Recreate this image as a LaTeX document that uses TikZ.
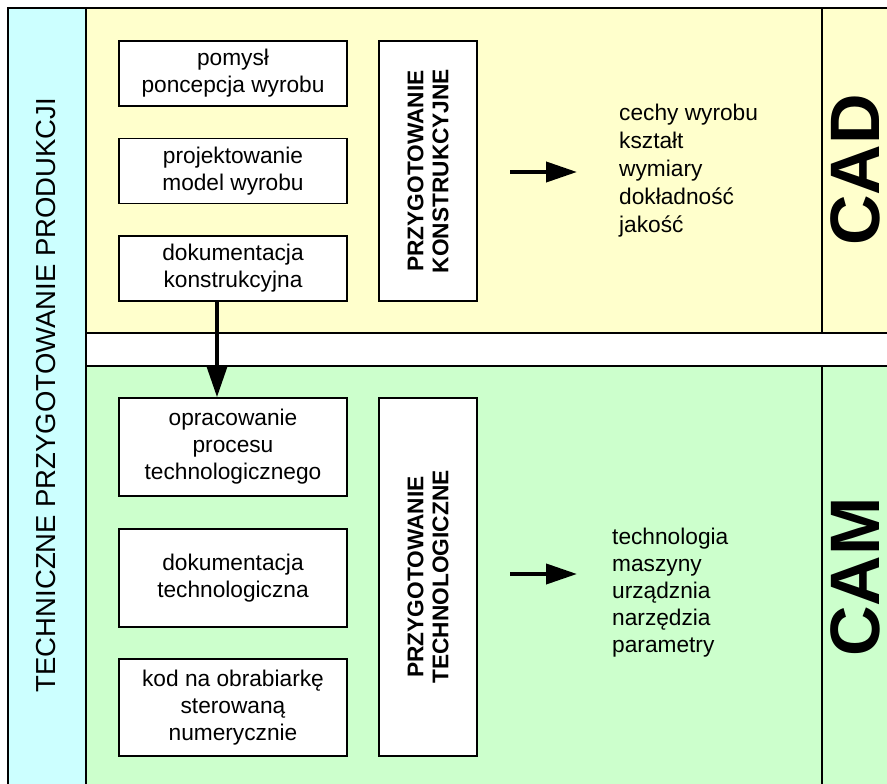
\documentclass[tikz,border=0pt]{standalone}
\usepackage{fontspec}
\setmainfont{Liberation Sans}
\usetikzlibrary{arrows.meta}
\definecolor{cyanbg}{HTML}{CCFFFF}
\definecolor{yellowbg}{HTML}{FFFFCC}
\definecolor{greenbg}{HTML}{CCFFCC}
\tikzset{
  panel/.style={draw=black, line width=1.5pt},
  stepbox/.style={draw=black, fill=white, line width=1.5pt, minimum width=228pt, inner sep=2pt, align=center, font=\fontsize{22.7}{27}\selectfont},
  sidebox/.style={draw=black, fill=white, line width=1.5pt, minimum width=98pt},
  sidelabel/.style={rotate=90, align=center, font=\fontsize{22.7}{25}\selectfont\bfseries},
  listtext/.style={anchor=west, align=left, inner sep=0pt},
  bigarrow/.style={line width=4pt, -{Triangle[length=31pt,width=20pt]}},
  biglabel/.style={rotate=90, inner sep=0pt, font=\fontsize{70}{76}\selectfont\bfseries}
}
\begin{document}
\begin{tikzpicture}[x=1pt,y=-1pt]
\useasboundingbox (0,0) rectangle (887,784);
\clip (0,0) rectangle (887,784);
% panels
\draw[panel, fill=cyanbg] (8,8) rectangle (86,810);
\draw[panel, fill=yellowbg] (86,8) rectangle (910,333);
\draw[panel, fill=greenbg] (86,366) rectangle (910,810);
\draw[panel] (822,8) -- (822,333);
\draw[panel] (822,366) -- (822,810);
% left label
\node[rotate=90, font=\fontsize{27.5}{30}\selectfont] (tpp) at (46,395) {TECHNICZNE PRZYGOTOWANIE PRODUKCJI};
% CAD boxes
\node[stepbox, minimum height=65pt] (b1) at (233,73.5) {pomysł\\poncepcja wyrobu};
\node[stepbox, minimum height=65pt] (b2) at (233,171) {projektowanie\\model wyrobu};
\node[stepbox, minimum height=65pt] (b3) at (233,268.5) {dokumentacja\\konstrukcyjna};
\node[sidebox, minimum height=260pt] (pk) at (428,171) {};
\node[sidelabel] (pkt) at (pk.center) {PRZYGOTOWANIE\\KONSTRUKCYJNE};
% CAM boxes
\node[stepbox, minimum height=98pt] (b4) at (233,447) {opracowanie\\procesu\\technologicznego};
\node[stepbox, minimum height=98pt] (b5) at (233,578) {dokumentacja\\technologiczna};
\node[stepbox, minimum height=97pt] (b6) at (233,707.5) {kod na obrabiarkę\\sterowaną\\numerycznie};
\node[sidebox, minimum height=358pt] (pt) at (428,577) {};
\node[sidelabel] (ptt) at (pt.center) {PRZYGOTOWANIE\\TECHNOLOGICZNE};
% lists
\node[listtext, font=\fontsize{22.7}{28}\selectfont] (l1) at (619,171) {cechy wyrobu\\kształt\\wymiary\\dokładność\\jakość};
\node[listtext, font=\fontsize{22.7}{27}\selectfont] (l2) at (612,592.5) {technologia\\maszyny\\urządznia\\narzędzia\\parametry};
% big labels
\node[biglabel] (cad) at (855,170) {CAD};
\node[biglabel] (cam) at (855,577) {CAM};
% arrows
\coordinate (a1s) at (510,172);
\coordinate (a1e) at (577,172);
\coordinate (a2s) at (510,574);
\coordinate (a2e) at (577,574);
\draw[bigarrow] (a1s) -- (a1e);
\draw[bigarrow] (a2s) -- (a2e);
\coordinate (d1) at (b3.south -| 217,0);
\coordinate (d2) at (b4.north -| 217,0);
\draw[bigarrow] (d1) -- (d2);
\end{tikzpicture}
\end{document}
